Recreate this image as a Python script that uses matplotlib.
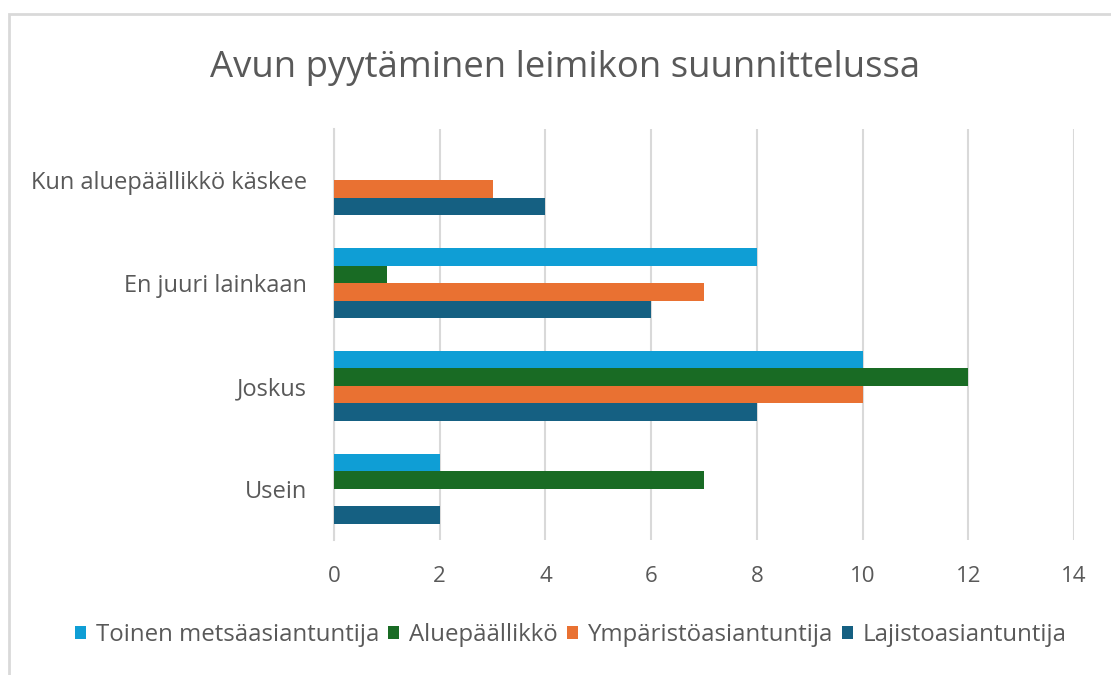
import matplotlib
matplotlib.use("Agg")
import matplotlib.pyplot as plt
from matplotlib.patches import Rectangle
import numpy as np

categories = ["Usein", "Joskus", "En juuri lainkaan", "Kun aluepäällikkö käskee"]
series_names = ["Toinen metsäasiantuntija", "Aluepäällikkö", "Ympäristöasiantuntija", "Lajistoasiantuntija"]
toinen = [2, 10, 8, 0]
alue = [7, 12, 1, 0]
ymparisto = [0, 10, 7, 3]
lajisto = [2, 8, 6, 4]
colors = ["#0F9ED5", "#196B24", "#E97132", "#156082"]
xticks = [0, 2, 4, 6, 8, 10, 12, 14]

plt.rcParams['font.family'] = ['Open Sans', 'DejaVu Sans']
txt = "#595959"

W, H = 1111, 675
fig = plt.figure(figsize=(W/100, H/100), dpi=100)
fig.patch.set_facecolor("white")

# border
fig.patches.append(Rectangle((9/W, -0.05), 1.2, (H-14)/H + 0.05, transform=fig.transFigure,
                             fill=False, edgecolor="#D9D9D9", linewidth=2))

ax = fig.add_axes([334/W, 1-540/H, (1074-334)/W, (540-129)/H])
y = np.arange(len(categories))
h = 0.17
data = [toinen, alue, ymparisto, lajisto]
offsets = [1.5*h, 0.5*h, -0.5*h, -1.5*h]
for vals, off, c, name in zip(data, offsets, colors, series_names):
    ax.barh(y + off, vals, height=h, color=c, label=name, zorder=3)

ax.set_xlim(0, 14)
ax.set_ylim(-0.5, 3.5)
ax.set_xticks(xticks)
ax.set_xticklabels([str(t) for t in xticks], fontsize=16, color=txt)
ax.set_yticks(y)
ax.set_yticklabels(categories, fontsize=17, color=txt)
ax.tick_params(axis='both', length=0)
ax.tick_params(axis='x', pad=19)
ax.tick_params(axis='y', pad=19.5)
ax.grid(axis='x', color="#D9D9D9", linewidth=1.5, zorder=0)
for s in ["top", "right", "bottom"]:
    ax.spines[s].set_visible(False)
ax.spines["left"].set_color("#D9D9D9")
ax.spines["left"].set_linewidth(1.5)
ax.set_facecolor("white")

fig.text(565/W, 1-77/H, "Avun pyytäminen leimikon suunnittelussa", ha="center", va="baseline",
         fontsize=26.3, color=txt)

handles, labels = ax.get_legend_handles_labels()
leg = fig.legend(handles, labels, loc="center", bbox_to_anchor=(571/W, 1-635/H), ncol=4,
                 frameon=False, fontsize=17.3, handlelength=0.46, handleheight=0.46,
                 handletextpad=0.42, columnspacing=0.35, labelcolor=txt)

fig.savefig("out.png", dpi=100)
